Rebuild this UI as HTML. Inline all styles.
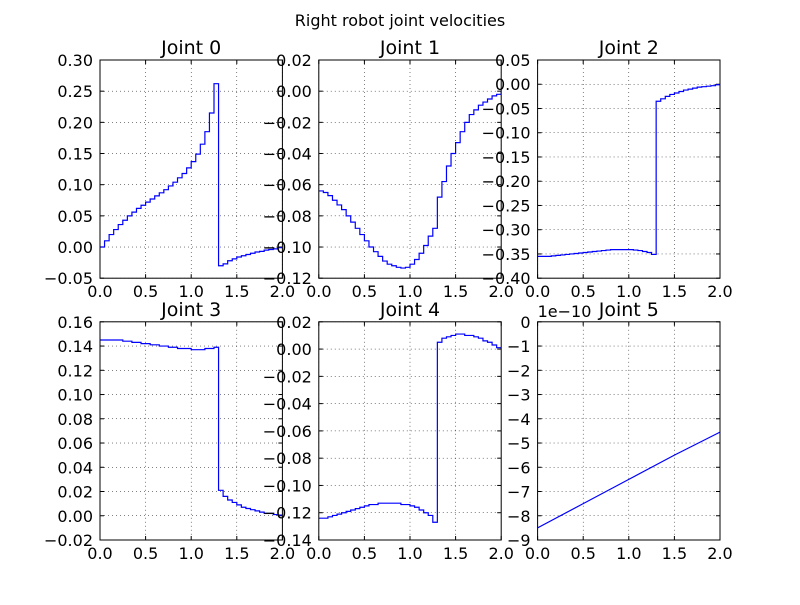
<!DOCTYPE html>
<html><head><meta charset="utf-8"><style>
html,body{margin:0;padding:0;background:#fff;}
svg text{font-family:"DejaVu Sans","Liberation Sans",sans-serif;fill:#000;}
</style></head><body>
<svg id="fig" width="800" height="600" viewBox="0 0 800 600" xmlns="http://www.w3.org/2000/svg">
<rect width="800" height="600" fill="#fff"/>
<text x="400" y="26" text-anchor="middle" font-size="16">Right robot  joint velocities</text>
</svg>
<script>
const tSteps = [0,0.05,0.1,0.15,0.2,0.25,0.3,0.35,0.4,0.45,0.5,0.55,0.6,0.65,0.7,0.75,0.8,0.85,0.9,0.95,1.0,1.05,1.1,1.15,1.2,1.25,1.3,1.35,1.4,1.45,1.5,1.55,1.6,1.65,1.7,1.75,1.8,1.85,1.9,1.95,2.0];
const joint0 = [0,0.01,0.02,0.028,0.036,0.043,0.05,0.056,0.062,0.067,0.072,0.077,0.082,0.087,0.092,0.098,0.104,0.111,0.118,0.127,0.137,0.149,0.165,0.185,0.215,0.262,-0.03,-0.027,-0.022,-0.019,-0.016,-0.014,-0.012,-0.01,-0.008,-0.007,-0.005,-0.004,-0.003,-0.001,0];
const joint1 = [-0.064,-0.065,-0.067,-0.07,-0.073,-0.076,-0.08,-0.084,-0.088,-0.092,-0.096,-0.1,-0.103,-0.106,-0.109,-0.111,-0.112,-0.113,-0.1135,-0.113,-0.111,-0.108,-0.104,-0.099,-0.093,-0.088,-0.068,-0.058,-0.048,-0.04,-0.033,-0.026,-0.02,-0.015,-0.012,-0.009,-0.007,-0.005,-0.003,-0.002,0];
const joint2 = [-0.355,-0.355,-0.355,-0.354,-0.353,-0.352,-0.351,-0.35,-0.349,-0.348,-0.347,-0.346,-0.345,-0.344,-0.343,-0.342,-0.341,-0.341,-0.341,-0.341,-0.341,-0.342,-0.343,-0.345,-0.347,-0.351,-0.035,-0.03,-0.025,-0.021,-0.018,-0.015,-0.012,-0.01,-0.008,-0.006,-0.005,-0.004,-0.003,-0.001,0];
const joint3 = [0.145,0.145,0.145,0.145,0.145,0.144,0.144,0.143,0.143,0.142,0.142,0.141,0.141,0.14,0.14,0.139,0.139,0.138,0.138,0.138,0.137,0.137,0.137,0.138,0.138,0.139,0.021,0.016,0.013,0.011,0.009,0.007,0.006,0.005,0.004,0.003,0.002,0.002,0.001,0.0005,0];
const joint4 = [-0.124,-0.124,-0.123,-0.122,-0.121,-0.12,-0.119,-0.118,-0.117,-0.116,-0.115,-0.114,-0.114,-0.113,-0.113,-0.113,-0.113,-0.113,-0.114,-0.114,-0.115,-0.116,-0.118,-0.12,-0.122,-0.127,0.005,0.008,0.009,0.010,0.011,0.011,0.010,0.010,0.009,0.008,0.006,0.005,0.003,0.001,0];
const tLine = [0,0.5,1.0,1.5,2.0];
const joint5 = [-8.5,-7.5,-6.5,-5.5,-4.55];
const xTicks = [0,0.5,1.0,1.5,2.0];
const yTicks0 = [-0.05,0,0.05,0.1,0.15,0.2,0.25,0.3];
const yTicks1 = [-0.12,-0.1,-0.08,-0.06,-0.04,-0.02,0,0.02];
const yTicks2 = [-0.4,-0.35,-0.3,-0.25,-0.2,-0.15,-0.1,-0.05,0,0.05];
const yTicks3 = [-0.02,0,0.02,0.04,0.06,0.08,0.1,0.12,0.14,0.16];
const yTicks4 = [-0.14,-0.12,-0.1,-0.08,-0.06,-0.04,-0.02,0,0.02];
const yTicks5 = [-9,-8,-7,-6,-5,-4,-3,-2,-1,0];

const NS="http://www.w3.org/2000/svg";
const svg=document.getElementById('fig');
function mk(tag,attrs,parent){const e=document.createElementNS(NS,tag);for(const k in attrs)e.setAttribute(k,attrs[k]);(parent||svg).appendChild(e);return e;}
function fmt(v,dec){let s=Math.abs(v).toFixed(dec);return (v<-1e-12?'\u2212':'')+s;}
const W=182.4,H=218.2;
const cols=[100,318.8,537.6],rows=[60,321.8];
const panels=[
 {x:tSteps,y:joint0,ticks:yTicks0,dec:2,step:true},
 {x:tSteps,y:joint1,ticks:yTicks1,dec:2,step:true},
 {x:tSteps,y:joint2,ticks:yTicks2,dec:2,step:true},
 {x:tSteps,y:joint3,ticks:yTicks3,dec:2,step:true},
 {x:tSteps,y:joint4,ticks:yTicks4,dec:2,step:true},
 {x:tLine,y:joint5,ticks:yTicks5,dec:0,step:false,offset:'1e\u221210'}
];
panels.forEach((p,i)=>{
 const x0=cols[i%3],y0=rows[Math.floor(i/3)];
 const ymin=p.ticks[0],ymax=p.ticks[p.ticks.length-1];
 const sx=v=>x0+(v-0)/(2-0)*W;
 const sy=v=>y0+H-(v-ymin)/(ymax-ymin)*H;
 const g=mk('g',{});
 
 
 const cp=mk('clipPath',{id:'c'+i},g);
 mk('rect',{x:x0,y:y0,width:W,height:H},cp);
 xTicks.forEach(v=>{
  const gl=mk('line',{x1:sx(v),x2:sx(v),y1:y0,y2:y0+H,stroke:'#000','stroke-width':0.5,'stroke-dasharray':'1,3'},g);
  
  
  mk('line',{x1:sx(v),x2:sx(v),y1:y0+H,y2:y0+H-4,stroke:'#000','stroke-width':1},g);
  mk('line',{x1:sx(v),x2:sx(v),y1:y0,y2:y0+4,stroke:'#000','stroke-width':1},g);
  const t=mk('text',{x:sx(v),y:y0+H+19,'text-anchor':'middle','font-size':16},g);
  t.textContent=v.toFixed(1);
  
  
 });
 p.ticks.forEach(v=>{
  const gl=mk('line',{x1:x0,x2:x0+W,y1:sy(v),y2:sy(v),stroke:'#000','stroke-width':0.5,'stroke-dasharray':'1,3'},g);
  
  
  mk('line',{x1:x0,x2:x0+4,y1:sy(v),y2:sy(v),stroke:'#000','stroke-width':1},g);
  mk('line',{x1:x0+W,x2:x0+W-4,y1:sy(v),y2:sy(v),stroke:'#000','stroke-width':1},g);
  const t=mk('text',{x:x0-7,y:sy(v)+6,'text-anchor':'end','font-size':16},g);
  t.textContent=fmt(v,p.dec);
  
  
 });
 let d='';
 for(let k=0;k<p.x.length;k++){
  const X=sx(p.x[k]),Y=sy(p.y[k]);
  if(k===0)d+='M'+X+','+Y;
  else if(p.step){d+='L'+X+','+sy(p.y[k-1])+'L'+X+','+Y;}
  else d+='L'+X+','+Y;
 }
 const path=mk('path',{d:d,fill:'none',stroke:'#0000ff','stroke-width':1.2,'clip-path':'url(#c'+i+')'},g);
 
 
 const fr=mk('rect',{x:x0,y:y0,width:W,height:H,fill:'none',stroke:'#000','stroke-width':1},g);
 
 
 const ti=mk('text',{x:x0+W/2,y:y0-6,'text-anchor':'middle','font-size':19},g);
 ti.textContent='Joint '+i;
 
 
 if(p.offset){
  const o=mk('text',{x:x0,y:y0-5,'font-size':16},g);
  o.textContent=p.offset;
  
  
 }
});
</script>
</body></html>
